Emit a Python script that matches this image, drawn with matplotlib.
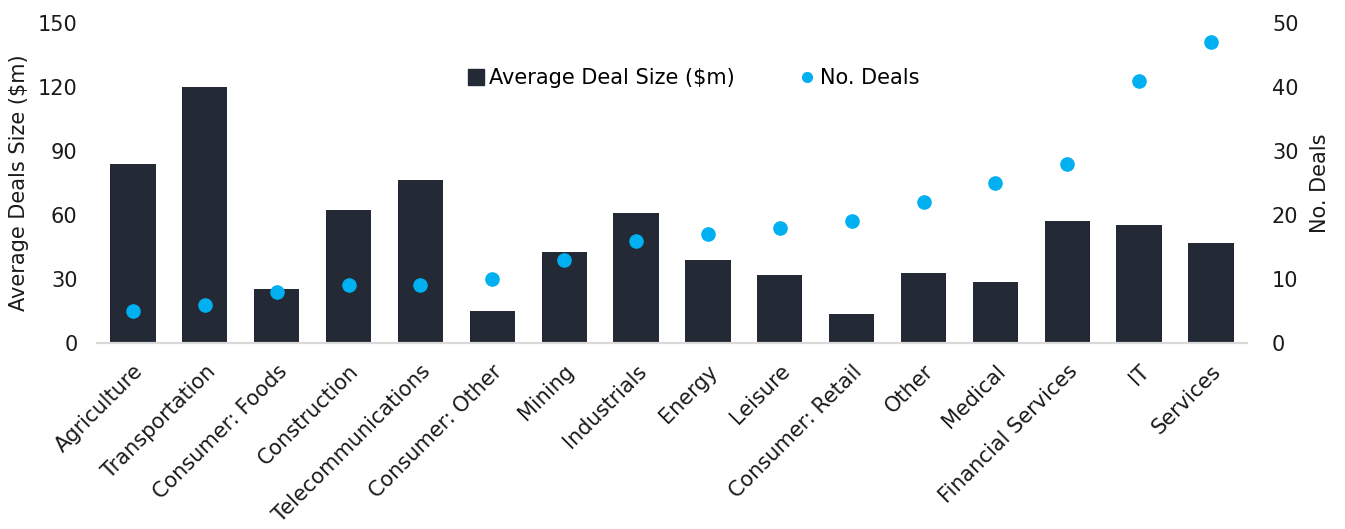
"""
Average deal size and number of deals by sector
"""
import matplotlib
matplotlib.use('Agg')
import matplotlib.pyplot as plt
from matplotlib.lines import Line2D

# Data
sectors = ['Agriculture', 'Transportation', 'Consumer: Foods', 'Construction',
           'Telecommunications', 'Consumer: Other', 'Mining', 'Industrials',
           'Energy', 'Leisure', 'Consumer: Retail', 'Other', 'Medical',
           'Financial Services', 'IT', 'Services']
avg_deal_size = [84, 120, 25.3, 62.5, 76.5, 15, 42.7, 61, 39, 32, 13.6, 32.8,
                 28.6, 57.3, 55.3, 46.9]
no_deals = [5, 6, 8, 9, 9, 10, 13, 16, 17, 18, 19, 22, 25, 28, 41, 47]
left_ticks = [0, 30, 60, 90, 120, 150]
right_ticks = [0, 10, 20, 30, 40, 50]

BAR_COLOR = '#232a35'
DOT_COLOR = '#00b0f0'
TEXT_COLOR = '#1a1a1a'

plt.rcParams['font.family'] = ['DejaVu Sans']

fig = plt.figure(figsize=(13.45, 5.29), dpi=100)
ax = fig.add_axes([0.0721, 0.3516, 0.8550, 0.6049])
ax2 = ax.twinx()

x = range(len(sectors))
ax.bar(x, avg_deal_size, width=0.63, color=BAR_COLOR, zorder=2)
ax2.scatter(x, no_deals, s=90, color=DOT_COLOR, zorder=3)

ax.set_xlim(-0.5, len(sectors) - 0.5)
ax.set_ylim(0, 150)
ax2.set_ylim(0, 50)
ax.set_yticks(left_ticks)
ax2.set_yticks(right_ticks)

ax.set_xticks(list(x))
ax.set_xticklabels(sectors, rotation=45, ha='right', rotation_mode='anchor',
                   fontsize=15, color=TEXT_COLOR)
ax.tick_params(axis='x', length=0, pad=13)
ax.tick_params(axis='y', length=0, labelsize=15, colors=TEXT_COLOR, pad=14)
ax2.tick_params(axis='y', length=0, labelsize=15, colors=TEXT_COLOR, pad=18)

for a in (ax, ax2):
    for side in ('top', 'left', 'right'):
        a.spines[side].set_visible(False)
    a.spines['bottom'].set_color('#d9d9d9')
    a.spines['bottom'].set_linewidth(1.5)

ax.set_ylabel('Average Deals Size ($m)', fontsize=15, color=TEXT_COLOR, labelpad=6)
ax2.set_ylabel('No. Deals', fontsize=15, color=TEXT_COLOR, labelpad=8)

handles = [
    Line2D([], [], marker='s', linestyle='none', color=BAR_COLOR, markersize=11),
    Line2D([], [], marker='o', linestyle='none', color=DOT_COLOR, markersize=7),
]
fig.legend(handles, ['Average Deal Size ($m)', 'No. Deals'], loc='center',
           bbox_to_anchor=(0.515, 0.852), ncol=2, frameon=False, fontsize=15,
           handletextpad=0.1, columnspacing=3.0, handlelength=1.0)

fig.savefig('out.png', dpi=100)
